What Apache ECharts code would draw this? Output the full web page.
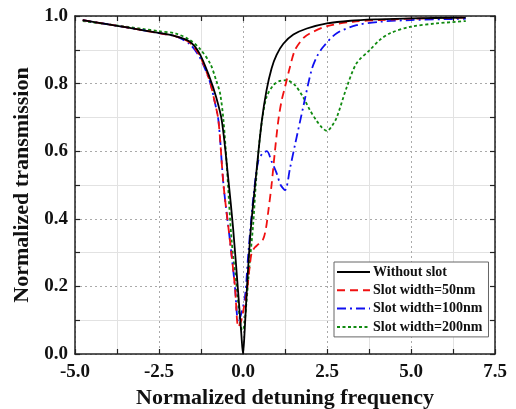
<!DOCTYPE html>
<html>
<head>
<meta charset="utf-8">
<script src="https://cdn.jsdelivr.net/npm/echarts@6/dist/echarts.min.js"></script>
<style>
  html, body { margin: 0; padding: 0; background: #fff; }
  #main { width: 516px; height: 409px; }
</style>
</head>
<body>
<div id="main"></div>
<script>
// 数据
var seriesNames = ['Without slot', 'Slot width=50nm', 'Slot width=100nm', 'Slot width=200nm']

var xNoSlot = [-4.77, -4.0, -3.5, -3.0, -2.5, -2.0, -1.6, -1.3, -1.0, -0.8, -0.63, -0.45, -0.29, -0.15, -0.05, 0.0,
  0.05, 0.12, 0.23, 0.4, 0.56, 0.7, 0.85, 1.0, 1.2, 1.5, 1.9, 2.5, 3.2, 4.0, 5.0, 6.63]
var yNoSlot = [0.988, 0.975, 0.967, 0.958, 0.950, 0.940, 0.925, 0.89, 0.82, 0.76, 0.69, 0.53, 0.367, 0.19, 0.06, 0.0,
  0.07, 0.2, 0.367, 0.54, 0.69, 0.78, 0.845, 0.885, 0.918, 0.945, 0.963, 0.978, 0.986, 0.99, 0.993, 0.995]

var x50 = [-4.77, -4.0, -3.5, -3.0, -2.5, -2.0, -1.6, -1.3, -1.0, -0.85, -0.73, -0.58, -0.39, -0.24, -0.14,
  -0.05, 0.05, 0.11, 0.2, 0.26, 0.35, 0.46, 0.6, 0.68, 0.75, 0.85, 0.95, 1.05, 1.15, 1.25, 1.4, 1.55, 1.8, 2.0, 2.5, 3.27, 4.08, 5.0, 6.63]
var y50 = [0.988, 0.975, 0.967, 0.958, 0.949, 0.940, 0.922, 0.885, 0.81, 0.75, 0.69, 0.50, 0.337, 0.2, 0.08,
  0.1, 0.15, 0.18, 0.26, 0.30, 0.315, 0.325, 0.34, 0.37, 0.42, 0.5, 0.6, 0.69, 0.75, 0.79, 0.85, 0.9, 0.935, 0.949, 0.97, 0.983, 0.988, 0.992, 0.995]

var x100 = [-4.77, -4.0, -3.5, -3.0, -2.5, -2.0, -1.6, -1.3, -1.0, -0.85, -0.73, -0.58, -0.39, -0.24, -0.14,
  -0.05, 0.06, 0.16, 0.31, 0.46, 0.6, 0.71, 0.85, 1.0, 1.12, 1.25, 1.4, 1.55, 1.79, 2.04, 2.2, 2.39, 2.79, 3.38, 4.08, 5.0, 6.63]
var y100 = [0.988, 0.975, 0.967, 0.958, 0.949, 0.940, 0.918, 0.88, 0.81, 0.75, 0.69, 0.50, 0.337, 0.2, 0.095,
  0.12, 0.17, 0.3, 0.465, 0.574, 0.595, 0.6, 0.57, 0.535, 0.5, 0.485, 0.55, 0.62, 0.73, 0.84, 0.88, 0.909, 0.949, 0.973, 0.983, 0.988, 0.992]

var x200 = [-4.77, -4.0, -3.0, -2.5, -2.0, -1.6, -1.3, -0.98, -0.8, -0.68, -0.58, -0.49, -0.34, -0.19, -0.09, -0.03,
  0.03, 0.1, 0.2, 0.3, 0.38, 0.48, 0.58, 0.7, 0.9, 1.1, 1.3, 1.55, 1.79, 2.0, 2.19, 2.35, 2.5, 2.65, 2.79, 3.09, 3.38, 3.78, 4.08, 4.375, 4.97, 5.76, 6.63]
var y200 = [0.985, 0.975, 0.962, 0.955, 0.948, 0.93, 0.905, 0.86, 0.81, 0.77, 0.69, 0.57, 0.337, 0.2, 0.1, 0.07,
  0.08, 0.15, 0.27, 0.38, 0.5, 0.62, 0.7, 0.76, 0.795, 0.808, 0.81, 0.795, 0.76, 0.72, 0.69, 0.67, 0.66, 0.675, 0.70, 0.79, 0.86, 0.90, 0.93, 0.949, 0.968, 0.978, 0.985]

var xTicks = [-5, -2.5, 0, 2.5, 5, 7.5]
var yTicks = [0, 0.2, 0.4, 0.6, 0.8, 1.0]

function pairs (xs, ys) {
  return xs.map(function (x, i) { return [x, ys[i]] })
}

var font = 'Liberation Serif'
var myChart = echarts.init(document.getElementById('main'))

function baseAxis (extra) {
  var a = {
    type: 'value',
    axisLine: { show: true, onZero: false, lineStyle: { color: '#222', width: 1.5 } },
    axisTick: { show: true, inside: true, length: 5, lineStyle: { color: '#222', width: 1.2 } },
    minorTick: { show: true, splitNumber: 2, length: 5, lineStyle: { color: '#222', width: 1.2 } },
    splitLine: { show: false },
    minorSplitLine: { show: false },
    axisLabel: { show: false }
  }
  return Object.assign(a, extra)
}

var option = {
  animation: false,
  backgroundColor: '#fff',
  grid: { left: 75, right: 21, top: 16, bottom: 55, outerBoundsMode: 'none', containLabel: false },
  xAxis: [
    baseAxis({
      min: xTicks[0], max: xTicks[xTicks.length - 1], interval: 2.5,
      position: 'bottom',
      name: 'Normalized detuning frequency',
      nameLocation: 'middle', nameGap: 33,
      nameTextStyle: { fontFamily: font, fontWeight: 'bold', fontSize: 22, color: '#111' },
      splitLine: { show: true, lineStyle: { color: '#aaa', type: [2, 3], width: 1 } },
      minorSplitLine: { show: true, lineStyle: { color: '#e2e2e2', width: 1 } },
      axisLabel: {
        show: true, margin: 9, fontFamily: font, fontWeight: 'bold', fontSize: 19, color: '#111',
        formatter: function (v) { return v.toFixed(1) }
      }
    }),
    baseAxis({ min: xTicks[0], max: xTicks[xTicks.length - 1], interval: 2.5, position: 'top' })
  ],
  yAxis: [
    baseAxis({
      min: yTicks[0], max: yTicks[yTicks.length - 1], interval: 0.2,
      position: 'left',
      name: 'Normalized transmission',
      nameLocation: 'middle', nameGap: 37,
      nameTextStyle: { fontFamily: font, fontWeight: 'bold', fontSize: 22, color: '#111' },
      splitLine: { show: true, lineStyle: { color: '#aaa', type: [2, 3], width: 1 } },
      minorSplitLine: { show: true, lineStyle: { color: '#e2e2e2', width: 1 } },
      axisLabel: {
        show: true, margin: 7, fontFamily: font, fontWeight: 'bold', fontSize: 19, color: '#111',
        formatter: function (v) { return v.toFixed(1) }
      }
    }),
    baseAxis({ min: yTicks[0], max: yTicks[yTicks.length - 1], interval: 0.2, position: 'right' })
  ],
  legend: {
    orient: 'vertical',
    left: 334, top: 262,
    padding: [3, 6, 3, 2],
    itemWidth: 33, itemHeight: 14, itemGap: 4.3,
    backgroundColor: '#fff',
    borderColor: '#666', borderWidth: 1,
    itemStyle: { opacity: 0 },
    textStyle: { fontFamily: font, fontWeight: 'bold', fontSize: 14, color: '#111', padding: [0, 0, 0, -2] },
    data: seriesNames
  },
  series: [
    {
      name: seriesNames[0], type: 'line', symbol: 'none', smooth: 0.3,
      data: pairs(xNoSlot, yNoSlot),
      lineStyle: { color: '#000', width: 1.8, type: 'solid' },
      itemStyle: { color: '#000' }, z: 5
    },
    {
      name: seriesNames[1], type: 'line', symbol: 'none', smooth: 0.3,
      data: pairs(x50, y50),
      lineStyle: { color: '#f01010', width: 1.8, type: [8, 5] },
      itemStyle: { color: '#f01010' }, z: 4
    },
    {
      name: seriesNames[2], type: 'line', symbol: 'none', smooth: 0.3,
      data: pairs(x100, y100),
      lineStyle: { color: '#1010f0', width: 1.8, type: [9, 4, 2, 4] },
      itemStyle: { color: '#1010f0' }, z: 3
    },
    {
      name: seriesNames[3], type: 'line', symbol: 'none', smooth: 0.3,
      data: pairs(x200, y200),
      lineStyle: { color: '#108a10', width: 1.8, type: [3, 2.5] },
      itemStyle: { color: '#108a10' }, z: 2
    }
  ]
}

myChart.setOption(option)
</script>
</body>
</html>
